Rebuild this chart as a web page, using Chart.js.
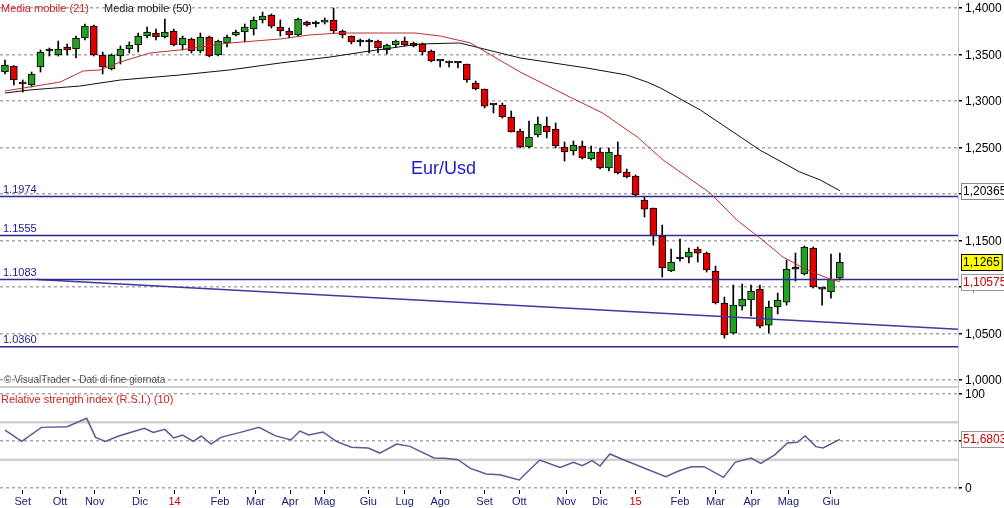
<!DOCTYPE html>
<html>
<head>
<meta charset="utf-8">
<script src="https://cdn.jsdelivr.net/npm/chart.js@4.4.1/dist/chart.umd.min.js"></script>
<style>
  body { margin: 0; background: #fff; }
  canvas { position: absolute; left: 0; }
  #price { top: 0; }
  #rsi { top: 386px; }
</style>
</head>
<body>
<canvas id="price" width="1004" height="386"></canvas>
<canvas id="rsi" width="1004" height="122"></canvas>
<script>
// weekly candles, Aug 2013 - Jun 2015
const opens = [1.3312,1.3376,1.3204,1.3172,1.3366,1.3538,1.3495,1.3581,1.3559,1.3678,
  1.3806,1.3495,1.3344,1.3484,1.3559,1.3602,1.3699,1.3731,1.3688,1.3753,
  1.3602,1.3667,1.3538,1.3688,1.3495,1.3624,1.3710,1.3742,1.3774,1.3871,
  1.3925,1.3796,1.3753,1.3710,1.3849,1.3828,1.3849,1.3871,1.3753,1.3699,
  1.3635,1.3635,1.3645,1.3549,1.3602,1.3645,1.3624,1.3613,1.3538,1.3430,
  1.3430,1.3409,1.3398,1.3194,1.3129,1.2957,1.2957,1.2828,1.2678,1.2506,
  1.2635,1.2731,1.2699,1.2506,1.2463,1.2517,1.2377,1.2452,1.2280,1.2420,
  1.2237,1.2194,1.1936,1.1850,1.1549,1.1173,1.1302,1.1323,1.1409,1.1366,
  1.1173,1.0829,1.0506,1.0796,1.0861,1.0979,1.0592,1.0786,1.0839,1.1194,
  1.1141,1.1420,1.0979,1.0947,1.1097];
const closes = [1.3387,1.3226,1.3183,1.3291,1.3527,1.3538,1.3559,1.3549,1.3678,1.3806,
  1.3495,1.3366,1.3495,1.3559,1.3602,1.3699,1.3742,1.3688,1.3742,1.3602,
  1.3678,1.3538,1.3688,1.3484,1.3645,1.3688,1.3742,1.3796,1.3871,1.3914,
  1.3806,1.3753,1.3710,1.3882,1.3817,1.3828,1.3871,1.3753,1.3710,1.3635,
  1.3635,1.3635,1.3570,1.3602,1.3645,1.3602,1.3592,1.3527,1.3430,1.3430,
  1.3409,1.3409,1.3226,1.3129,1.2946,1.2957,1.2828,1.2667,1.2506,1.2613,
  1.2753,1.2667,1.2517,1.2452,1.2527,1.2388,1.2452,1.2280,1.2452,1.2226,
  1.2183,1.1990,1.1839,1.1549,1.1205,1.1269,1.1302,1.1377,1.1366,1.1184,
  1.0829,1.0485,1.0807,1.0872,1.0958,1.0581,1.0786,1.0861,1.1194,1.1194,
  1.1431,1.1001,1.0979,1.1087,1.1265];
const highs = [1.3441,1.3380,1.3226,1.3312,1.3549,1.3570,1.3645,1.3613,1.3699,1.3828,
  1.3817,1.3527,1.3506,1.3592,1.3635,1.3731,1.3796,1.3774,1.3882,1.3774,
  1.3699,1.3678,1.3731,1.3699,1.3656,1.3710,1.3764,1.3828,1.3903,1.3957,
  1.3936,1.3871,1.3785,1.3893,1.3860,1.3860,1.3893,1.4000,1.3764,1.3699,
  1.3667,1.3667,1.3656,1.3613,1.3656,1.3688,1.3635,1.3624,1.3549,1.3430,
  1.3430,1.3409,1.3398,1.3215,1.3129,1.2957,1.2979,1.2893,1.2699,1.2785,
  1.2828,1.2828,1.2764,1.2560,1.2570,1.2570,1.2517,1.2495,1.2495,1.2560,
  1.2269,1.2205,1.1968,1.1850,1.1667,1.1409,1.1517,1.1420,1.1431,1.1377,
  1.1226,1.0893,1.1022,1.1033,1.1022,1.1022,1.0850,1.0936,1.1291,1.1366,
  1.1441,1.1431,1.0979,1.1355,1.1366];
const lows = [1.3291,1.3172,1.3097,1.3151,1.3312,1.3484,1.3484,1.3495,1.3463,1.3656,
  1.3484,1.3291,1.3334,1.3398,1.3516,1.3527,1.3678,1.3656,1.3678,1.3592,
  1.3549,1.3516,1.3516,1.3475,1.3484,1.3581,1.3699,1.3635,1.3710,1.3839,
  1.3785,1.3699,1.3678,1.3699,1.3806,1.3796,1.3828,1.3731,1.3678,1.3613,
  1.3592,1.3516,1.3516,1.3506,1.3581,1.3592,1.3581,1.3495,1.3420,1.3366,
  1.3366,1.3355,1.3204,1.3119,1.2925,1.2871,1.2817,1.2667,1.2495,1.2495,
  1.2613,1.2603,1.2495,1.2355,1.2420,1.2377,1.2366,1.2270,1.2248,1.2216,
  1.2173,1.1979,1.1753,1.1452,1.1108,1.1165,1.1280,1.1259,1.1269,1.1162,
  1.0818,1.0452,1.0495,1.0754,1.0689,1.0560,1.0506,1.0711,1.0807,1.1065,
  1.1130,1.0990,1.0807,1.0882,1.1076];

// moving averages (week index, value)
const ma21Idx = [0,2.8,6.2,8.8,10.7,13,16.3,19.7,25.3,31,34.3,37.7,42.2,46.2,49,52.4,58,63.6,67.3,71.2,74.1,79.4,82.4,85,87.6,90.3,92.6,94];
const ma21Val = [1.3108,1.3151,1.3204,1.3323,1.3334,1.3420,1.3516,1.3549,1.3624,1.3667,1.3710,1.3731,1.3731,1.3731,1.3699,1.3624,1.3312,1.3043,1.2871,1.2613,1.2366,1.2011,1.1721,1.1528,1.1323,1.1184,1.1098,1.10575];
const ma50Idx = [0,2.8,8.4,13,19.7,25.3,31,36.6,41.1,46.7,51.2,58,65.5,70,72.3,73.8,78.3,85,89.5,91.8,94];
const ma50Val = [1.3086,1.3119,1.3161,1.3226,1.3280,1.3334,1.3409,1.3473,1.3538,1.3613,1.3624,1.3463,1.3355,1.3280,1.3204,1.3140,1.2903,1.2473,1.2237,1.2151,1.20365];

// RSI (10)
const rsiIdx = [0,1.9,4.1,7,9.2,10.2,11.3,12.8,15.7,16.7,18,19,20,21.2,22.1,23.2,24.3,26.5,28.6,30.4,32.2,33.2,34.2,35.8,37.3,39,40.9,42.2,44.1,45.6,48.3,49.5,51,52.4,54.2,55.7,57.9,60.2,62.5,64,65,66.1,67,68.1,69.7,74.4,75.9,77.3,78.7,80.9,82.2,84,85.1,86.7,88.1,89.2,90.1,91.3,92.1,94];
const rsiVal = [61.7,49.6,64.5,65.2,74.1,53.9,49.6,55.3,63.5,59.2,62.4,53.2,56.4,49.6,55.3,46.8,53.9,59.2,64.5,55.7,51.1,60.6,56.4,59.6,49.6,43.3,42.6,37.2,46.8,44.3,31.9,31.6,30.1,20.9,14.9,14.2,8.5,29.8,22,27.3,23.8,29.1,23.4,36.2,29.8,12.1,18.4,22.7,22.7,11.3,27.3,31.9,26.2,35.5,47.9,48.6,55.3,44,42.6,51.68];

// horizontal levels and trendline
const levels = [1.1974, 1.1555, 1.1083, 1.0360];
const trendIdx = [3.6, 107.3];
const trendVal = [1.1083, 1.0548];

// month ticks
const monthIdx = [2,6.2,10.1,15.2,19.1,24.2,28.2,32.1,36,40.9,45,49,54,57.9,63.2,67,71,76,80,84.1,88.2,93];
const monthLbl = ['Set','Ott','Nov','Dic','14','Feb','Mar','Apr','Mag','Giu','Lug','Ago','Set','Ott','Nov','Dic','15','Feb','Mar','Apr','Mag','Giu'];

const priceTicks = [1.0,1.05,1.1,1.15,1.2,1.25,1.3,1.35,1.4];
const rsiTicks = [0, 50, 100];

const X_MIN = -0.56, X_MAX = 107.3;
const AXIS_W = 46;
const FONT = "Liberation Sans";

function fmt(v, d) { return v.toFixed(d).replace('.', ','); }

const wicks = opens.map((o, i) => ({ x: i, y: [lows[i], highs[i]] }));
const bodies = opens.map((o, i) => ({ x: i, y: [o, closes[i]] }));
const bodyColors = opens.map((o, i) => closes[i] > o ? '#22a022' : (closes[i] < o ? '#e00000' : '#000'));

function line(xs, ys, color, width) {
    return {
        type: 'line',
        data: xs.map((x, i) => ({ x: x, y: ys[i] })),
        borderColor: color, borderWidth: width, pointRadius: 0, tension: 0, order: 0
    };
}

function yAxis(min, max, ticks) {
    return {
        position: 'right', min: min, max: max,
        afterFit: s => { s.width = AXIS_W; },
        afterBuildTicks: s => { s.ticks = ticks.map(v => ({ value: v })); },
        grid: { color: '#a8a8a8', lineWidth: 1.5, tickLength: 4, tickColor: '#000' },
        border: { dash: [3, 3], display: false },
        ticks: { display: false }
    };
}

function drawYLabels(chart, ticks, label) {
    const ctx = chart.ctx, y = chart.scales.y, a = chart.chartArea;
    ctx.save();
    ctx.font = "12px " + FONT;
    ctx.fillStyle = '#000';
    ctx.textBaseline = 'middle';
    ticks.forEach(v => {
        const t = label(v);
        if (t) ctx.fillText(t, a.right + 7, y.getPixelForValue(v) + 1);
    });
    ctx.strokeStyle = '#c8c8c8';
    ctx.lineWidth = 1;
    ctx.beginPath(); ctx.moveTo(a.right + 0.5, 0); ctx.lineTo(a.right + 0.5, a.bottom); ctx.stroke();
    ctx.restore();
}

function drawBox(chart, v, t, bg, fg, bd) {
    const ctx = chart.ctx, y = chart.scales.y, a = chart.chartArea;
    const py = Math.round(y.getPixelForValue(v));
    ctx.save();
    ctx.font = "12px " + FONT;
    ctx.textBaseline = 'middle';
    const w = ctx.measureText(t).width + 4;
    ctx.fillStyle = bg;
    ctx.fillRect(a.right + 3, py - 8, w, 16);
    ctx.strokeStyle = bd;
    ctx.strokeRect(a.right + 3.5, py - 7.5, w, 16);
    ctx.fillStyle = fg;
    ctx.fillText(t, a.right + 5, py + 1);
    ctx.restore();
}

const priceOverlay = {
    id: 'priceOverlay',
    afterDraw(chart) {
        const ctx = chart.ctx, y = chart.scales.y;
        drawYLabels(chart, priceTicks, v => fmt(v, 4));
        ctx.save();
        ctx.font = "11px " + FONT;
        ctx.textBaseline = 'bottom';
        ctx.fillStyle = '#1a1a8c';
        levels.forEach(v => ctx.fillText(v.toFixed(4), 3, y.getPixelForValue(v) - 1));

        ctx.textBaseline = 'middle';
        ctx.fillStyle = '#cc2222';
        ctx.fillText('Media mobile (21)', 1, 9);
        ctx.fillStyle = '#222';
        ctx.fillText('Media mobile (50)', 104, 9);

        ctx.font = "18px " + FONT;
        ctx.fillStyle = '#1a1acc';
        ctx.fillText('Eur/Usd', 411, 169);

        ctx.font = "10px " + FONT;
        ctx.fillStyle = '#555';
        ctx.fillText('\u00a9 VisualTrader - Dati di fine giornata', 4, y.getPixelForValue(1.0));
        ctx.restore();

        drawBox(chart, 1.20365, '1,20365', '#fff', '#000', '#888');
        drawBox(chart, 1.1265, '1,1265', '#ffff00', '#000', '#000');
        drawBox(chart, 1.10575, '1,10575', '#fff', '#cc0000', '#999');
    }
};

new Chart(document.getElementById('price'), {
    data: {
        datasets: [
            { type: 'bar', data: wicks, backgroundColor: '#000', barThickness: 1, grouped: false, order: 3 },
            { type: 'bar', data: bodies, backgroundColor: bodyColors, borderColor: '#000', borderWidth: 1,
              borderSkipped: false, barThickness: 7, minBarLength: 2, grouped: false, order: 2 },
            line(ma21Idx, ma21Val, '#b83232', 1),
            line(ma50Idx, ma50Val, '#111', 1),
            ...levels.map(v => line([X_MIN, X_MAX], [v, v], '#2a2a90', 1.5)),
            line(trendIdx, trendVal, '#3a3aa0', 1.5)
        ]
    },
    options: {
        responsive: false, animation: false, devicePixelRatio: 1,
        layout: { padding: 0 },
        plugins: { legend: { display: false }, tooltip: { enabled: false } },
        scales: {
            x: { type: 'linear', min: X_MIN, max: X_MAX, offset: false, display: false },
            y: yAxis(0.9937, 1.4086, priceTicks)
        }
    },
    plugins: [priceOverlay]
});

const rsiOverlay = {
    id: 'rsiOverlay',
    beforeDatasetsDraw(chart) {
        const ctx = chart.ctx, y = chart.scales.y, a = chart.chartArea;
        ctx.save();
        ctx.strokeStyle = '#cfcfcf';
        ctx.lineWidth = 2.5;
        [70, 30].forEach(v => {
            const py = y.getPixelForValue(v);
            ctx.beginPath(); ctx.moveTo(a.left, py); ctx.lineTo(a.right, py); ctx.stroke();
        });
        ctx.strokeStyle = '#d0d0d0';
        ctx.lineWidth = 2;
        ctx.beginPath(); ctx.moveTo(0, 1); ctx.lineTo(a.right, 1); ctx.stroke();
        ctx.restore();
    },
    afterDraw(chart) {
        const ctx = chart.ctx;
        drawYLabels(chart, rsiTicks, v => v === 50 ? '' : String(v));
        ctx.save();
        ctx.font = "11px " + FONT;
        ctx.textBaseline = 'middle';
        ctx.fillStyle = '#cc2222';
        ctx.fillText('Relative strength index (R.S.I.) (10)', 1, 14);
        ctx.restore();
        drawBox(chart, 51.68, '51,6803', '#fff', '#cc0000', '#999');
    }
};

new Chart(document.getElementById('rsi'), {
    type: 'line',
    data: {
        datasets: [{
            data: rsiIdx.map((x, i) => ({ x: x, y: rsiVal[i] })),
            borderColor: '#5a5a96', borderWidth: 1.5, pointRadius: 0, tension: 0
        }]
    },
    options: {
        responsive: false, animation: false, devicePixelRatio: 1,
        layout: { padding: 0 },
        plugins: { legend: { display: false }, tooltip: { enabled: false } },
        scales: {
            x: {
                type: 'linear', min: X_MIN, max: X_MAX, offset: false,
                afterFit: s => { s.height = 18; },
                afterBuildTicks: s => { s.ticks = monthIdx.map(v => ({ value: v })); },
                grid: { drawOnChartArea: false, tickLength: 4, tickColor: '#000' },
                border: { display: false },
                ticks: {
                    autoSkip: false, maxRotation: 0, padding: 1,
                    font: { family: FONT, size: 11 },
                    color: ctx => (monthLbl[ctx.index] === '14' || monthLbl[ctx.index] === '15') ? '#cc0000' : '#1a1a7a',
                    callback: (v, i) => monthLbl[i]
                }
            },
            y: yAxis(-2.1, 108.5, rsiTicks)
        }
    },
    plugins: [rsiOverlay]
});
</script>
</body>
</html>
